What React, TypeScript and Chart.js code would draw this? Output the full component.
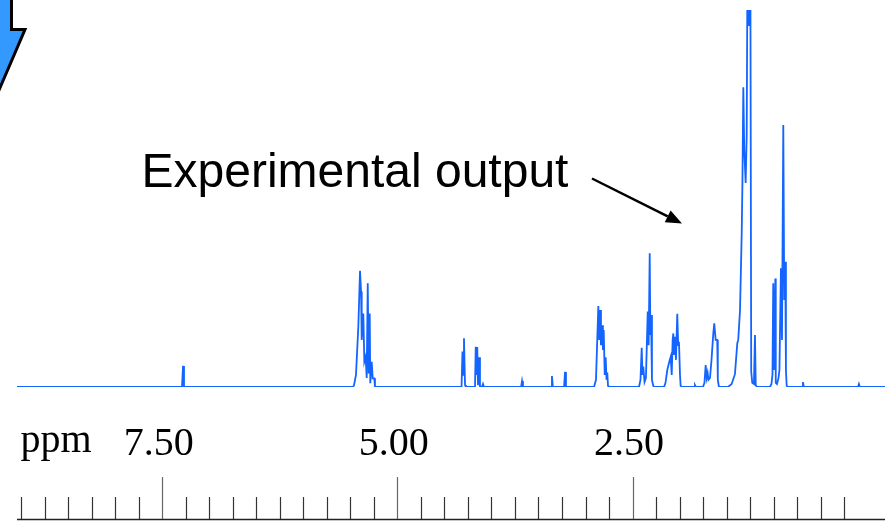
import React, { useEffect, useRef } from "react";
import { Chart, registerables } from "chart.js";

Chart.register(...registerables);

type Pt = [number, number];

// Chemical shift (ppm) / relative intensity (%) pairs
const leadingBaseline: Pt[] = [[9.043, 0]];
const solventPeak: Pt[] = [[7.289, 0], [7.278, 5.6], [7.268, 0]];
const olefinicMultiplet: Pt[] = [
  [5.47, 0], [5.461, 0.5], [5.44, 3.2], [5.415, 16.0], [5.397, 30.8], [5.386, 25.3], [5.379, 12.5],
  [5.362, 19.5], [5.351, 6.7], [5.337, 8.0], [5.326, 2.4], [5.315, 27.5], [5.305, 3.6],
  [5.294, 19.5], [5.288, 1.0], [5.273, 6.7], [5.262, 2.3], [5.245, 2.3], [5.238, 0],
];
const multiplet430: Pt[] = [[4.318, 0], [4.308, 9.4], [4.3, 3.2], [4.292, 12.9], [4.281, 0.5], [4.271, 0]];
const multiplet415: Pt[] = [
  [4.175, 0], [4.167, 10.7], [4.159, 3.2], [4.151, 10.6], [4.143, 0.5], [4.132, 7.9], [4.122, 0],
  [4.101, 0], [4.09, 0.8], [4.08, 0],
];
const minorPeaks3: Pt[] = [
  [3.685, 0], [3.675, 1.6], [3.665, 0], [3.367, 0], [3.357, 2.9], [3.347, 0],
  [3.228, 0], [3.218, 4.0], [3.208, 0],
];
const multiplet280: Pt[] = [
  [2.91, 0], [2.889, 1.9], [2.864, 21.5], [2.855, 12.5], [2.846, 20.4], [2.836, 11.1], [2.822, 16.4],
  [2.815, 9.8], [2.807, 15.1], [2.796, 3.2], [2.786, 7.9], [2.777, 1.9], [2.769, 3.8], [2.761, 0.3], [2.751, 0],
];
const multiplet235: Pt[] = [
  [2.432, 0], [2.416, 1.9], [2.403, 10.4], [2.395, 3.2], [2.386, 5.4], [2.373, 1.3], [2.358, 2.4],
  [2.339, 20.0], [2.329, 11.1], [2.318, 35.5], [2.311, 13.8], [2.304, 19.1], [2.294, 1.9], [2.28, 0.3], [2.272, 0],
];
const multiplet205: Pt[] = [
  [2.166, 0], [2.15, 1.1], [2.131, 4.5], [2.11, 6.7], [2.095, 8.0], [2.084, 3.2], [2.074, 12.5],
  [2.067, 14.2], [2.058, 8.5], [2.049, 13.3], [2.039, 7.2], [2.025, 19.4], [2.015, 11.1], [2.007, 12.0],
  [1.996, 3.2], [1.989, 0.3], [1.975, 0], [1.847, 0], [1.837, 0.5], [1.827, 0],
];
const multiplet165: Pt[] = [
  [1.752, 0], [1.736, 1.1], [1.723, 5.8], [1.712, 2.4], [1.702, 3.7], [1.693, 1.9], [1.677, 2.4],
  [1.661, 7.2], [1.642, 14.2], [1.632, 16.9], [1.617, 12.5], [1.6, 12.5], [1.594, 1.9], [1.582, 0],
];
const multiplet130: Pt[] = [
  [1.486, 0], [1.447, 0.8], [1.412, 3.4], [1.387, 11.6], [1.377, 12.5], [1.358, 20.4], [1.34, 40.8],
  [1.332, 54.9], [1.323, 79.5], [1.313, 62.9], [1.298, 54.1], [1.287, 66.8], [1.281, 100], [1.272, 96],
  [1.263, 100], [1.255, 96], [1.247, 100], [1.239, 4.1], [1.228, 1.1], [1.21, 0.8], [1.199, 13.8],
  [1.191, 0.5], [1.178, 0],
];
const multiplet095: Pt[] = [
  [1.04, 0], [1.024, 0.8], [1.013, 3.2], [1.005, 27.5], [0.995, 4.5], [0.983, 28.8], [0.978, 1.1],
  [0.965, 0.8], [0.949, 2.4], [0.939, 4.5], [0.923, 31.5], [0.912, 12.5], [0.898, 69.5], [0.888, 23.1],
  [0.877, 33.2], [0.87, 4.5], [0.862, 0.3], [0.848, 0],
];
const minorPeaksHighField: Pt[] = [[0.699, 0], [0.689, 1.3], [0.679, 0], [0.104, 0], [0.094, 0.8], [0.084, 0]];
const trailingBaseline: Pt[] = [[-0.183, 0]];

const ppmMin = -0.183;
const ppmMax = 9.043;

// Ruler ticks
const minorTickValues = [
  9.0, 8.75, 8.5, 8.25, 8.0, 7.75, 7.25, 7.0, 6.75, 6.5, 6.25, 6.0, 5.75, 5.5, 5.25,
  4.75, 4.5, 4.25, 4.0, 3.75, 3.5, 3.25, 3.0, 2.75, 2.25, 2.0, 1.75, 1.5, 1.25, 1.0, 0.75, 0.5, 0.25,
];
const majorTickValues = [7.5, 5.0, 2.5];
const majorTickLabels = ["7.50", "5.00", "2.50"];
const axisUnitLabel = "ppm";
const annotationText = "Experimental output";

const spectrum: Pt[] = [
  ...leadingBaseline, ...solventPeak, ...olefinicMultiplet, ...multiplet430, ...multiplet415,
  ...minorPeaks3, ...multiplet280, ...multiplet235, ...multiplet205, ...multiplet165,
  ...multiplet130, ...multiplet095, ...minorPeaksHighField, ...trailingBaseline,
];

const overlayPlugin = {
  id: "nmrOverlay",
  afterDraw(chart: any) {
    const ctx: CanvasRenderingContext2D = chart.ctx;
    const xs = chart.scales.x;
    const area = chart.chartArea;
    ctx.save();

    // ruler base line
    ctx.strokeStyle = "#222";
    ctx.lineWidth = 1.5;
    ctx.beginPath();
    ctx.moveTo(area.left, 519.5);
    ctx.lineTo(area.right, 519.5);
    ctx.stroke();

    ctx.lineWidth = 1.2;
    ctx.strokeStyle = "#333";
    minorTickValues.forEach((v) => {
      const px = Math.round(xs.getPixelForValue(v)) + 0.5;
      ctx.beginPath();
      ctx.moveTo(px, 497);
      ctx.lineTo(px, 519);
      ctx.stroke();
    });
    ctx.strokeStyle = "#666";
    majorTickValues.forEach((v) => {
      const px = Math.round(xs.getPixelForValue(v)) + 0.5;
      ctx.beginPath();
      ctx.moveTo(px, 477);
      ctx.lineTo(px, 519);
      ctx.stroke();
    });

    // ruler labels
    ctx.fillStyle = "#000";
    ctx.font = '40px "Liberation Serif", "Times New Roman", serif';
    ctx.textBaseline = "alphabetic";
    ctx.textAlign = "center";
    majorTickValues.forEach((v, i) => {
      ctx.fillText(majorTickLabels[i], xs.getPixelForValue(v) - 3.5, 455);
    });
    ctx.textAlign = "left";
    ctx.fillText(axisUnitLabel, 20.5, 452);

    // annotation
    ctx.font = '48px "Liberation Sans", Arial, sans-serif';
    ctx.fillText(annotationText, 141.5, 187);

    // annotation arrow
    const x0 = 592, y0 = 178.5, tx = 682, ty = 223.5;
    const dx = tx - x0, dy = ty - y0;
    const len = Math.hypot(dx, dy);
    const ux = dx / len, uy = dy / len;
    const hl = 16, hw = 6.5;
    const bx = tx - ux * hl, by = ty - uy * hl;
    ctx.strokeStyle = "#000";
    ctx.lineWidth = 2.5;
    ctx.beginPath();
    ctx.moveTo(x0, y0);
    ctx.lineTo(bx, by);
    ctx.stroke();
    ctx.beginPath();
    ctx.moveTo(tx, ty);
    ctx.lineTo(bx - uy * hw, by + ux * hw);
    ctx.lineTo(bx + uy * hw, by - ux * hw);
    ctx.closePath();
    ctx.fillStyle = "#000";
    ctx.fill();

    // blue block arrow fragment at top-left
    ctx.beginPath();
    ctx.moveTo(-10, -5);
    ctx.lineTo(11.5, -5);
    ctx.lineTo(11.5, 29.5);
    ctx.lineTo(25, 29.5);
    ctx.lineTo(-10, 111);
    ctx.closePath();
    ctx.fillStyle = "#3399ff";
    ctx.fill();
    ctx.strokeStyle = "#000";
    ctx.lineWidth = 3;
    ctx.lineJoin = "miter";
    ctx.stroke();

    ctx.restore();
  },
};

export default function App() {
  const canvasRef = useRef<HTMLCanvasElement | null>(null);

  useEffect(() => {
    if (!canvasRef.current) return;
    const chart = new Chart(canvasRef.current, {
      type: "line",
      data: {
        datasets: [
          {
            data: spectrum.map(([x, y]) => ({ x, y })),
            borderColor: "#1464ff",
            borderWidth: 1.8,
            pointRadius: 0,
            tension: 0,
            fill: false,
          },
        ],
      },
      options: {
        animation: false,
        responsive: false,
        devicePixelRatio: 1,
        events: [],
        layout: { padding: { left: 17, right: 11, top: 10, bottom: 135 } },
        plugins: { legend: { display: false }, tooltip: { enabled: false }, title: { display: false } },
        scales: {
          x: { type: "linear", reverse: true, min: ppmMin, max: ppmMax, display: false },
          y: { type: "linear", min: 0, max: 100, display: false },
        },
      },
      plugins: [overlayPlugin],
    });
    return () => chart.destroy();
  }, []);

  return (
    <div style={{ position: "fixed", left: 0, top: 0, width: 896, height: 522, background: "#fff" }}>
      <canvas ref={canvasRef} width={896} height={522} style={{ display: "block" }} />
    </div>
  );
}
